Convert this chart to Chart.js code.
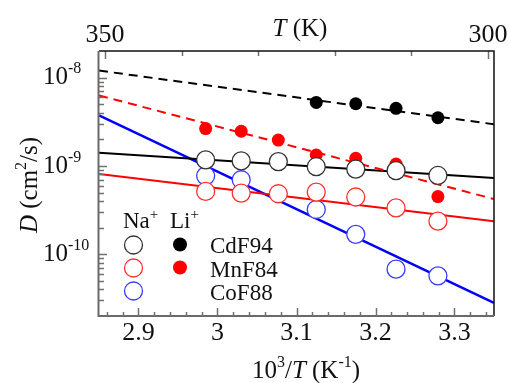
<!DOCTYPE html>
<html><head><meta charset="utf-8">
<script src="https://cdn.jsdelivr.net/npm/chart.js@4.4.1/dist/chart.umd.min.js"></script>
<style>html,body{margin:0;padding:0;background:#fff}#wrap{width:509px;height:383px;position:relative}</style>
</head><body><div id="wrap"><canvas id="c" width="509" height="383" style="position:absolute;left:0;top:0"></canvas></div>
<script>
// 10^3/T values (K^-1) for T = 335 ... 305 K
const invT = [2.985, 3.030, 3.077, 3.125, 3.175, 3.226, 3.279];
// Diffusion coefficients D (cm^2/s)
const naCdF94 = [1.17e-9, 1.14e-9, 1.12e-9, 0.98e-9, 0.92e-9, 0.885e-9, 0.78e-9];
const naMnF84 = [5.14e-10, 4.93e-10, 4.84e-10, 5.06e-10, 4.45e-10, 3.35e-10, 2.37e-10];
const naCoF88 = [7.73e-10, 6.97e-10, null, 3.21e-10, 1.68e-10, 6.78e-11, 5.70e-11];
const liCdF94 = [null, null, null, 5.23e-9, 5.06e-9, 4.49e-9, 3.51e-9];
const liMnF84 = [2.65e-9, 2.47e-9, 1.96e-9, 1.33e-9, 1.22e-9, 1.05e-9, 0.45e-9];
// Arrhenius fit lines, values at the ends of the x range
const fitX = [2.85, 3.35];
const fitNaCdF94 = [1.41e-9, 0.73e-9];
const fitLiCdF94 = [1.2e-8, 2.96e-9];
const fitNaMnF84 = [8.12e-10, 2.37e-10];
const fitLiMnF84 = [6.28e-9, 4.22e-10];
const fitNaCoF88 = [3.74e-9, 2.81e-11];
// tick labels
const xTickLabels = [[2.9,'2.9'],[3.0,'3'],[3.1,'3.1'],[3.2,'3.2'],[3.3,'3.3']];
const topTickLabels = [[350,'350'],[300,'300']];
const yTickExps = [-8,-9,-10];

function pts(xs, ys){ return xs.map((x,i)=>({x:x, y:ys[i]})).filter(p=>p.y!=null); }

const SERIF = "'Liberation Serif', serif";
function runs(ctx, parts, x, y, align){
  let w=0;
  parts.forEach(p=>{ctx.font=p.f; p.w=ctx.measureText(p.t).width; w+=p.w;});
  let cx = align==='center' ? x-w/2 : (align==='right' ? x-w : x);
  ctx.textAlign='left'; ctx.textBaseline='alphabetic';
  parts.forEach(p=>{ctx.font=p.f; ctx.fillText(p.t, cx, y+(p.dy||0)); cx+=p.w;});
}

const deco = {
  id:'deco',
  afterDraw(chart){
    const ctx=chart.ctx, a=chart.chartArea, sx=chart.scales.x, st=chart.scales.xT, sy=chart.scales.y;
    ctx.save();
    // ticks
    ctx.strokeStyle='#707070'; ctx.lineWidth=1.5;
    for(let i=143;i<=167;i++){
      const v=i/50, px=Math.round(sx.getPixelForValue(v))+0.5, L=(i%5===0)?8:4;
      ctx.beginPath(); ctx.moveTo(px,a.bottom); ctx.lineTo(px,a.bottom-L); ctx.stroke();
    }
    for(let T=300;T<=350;T+=10){
      const px=Math.round(st.getPixelForValue(T))+0.5, L=(T===300||T===350)?8:5;
      ctx.beginPath(); ctx.moveTo(px,a.top); ctx.lineTo(px,a.top+L); ctx.stroke();
    }
    for(let e=-11;e<=-8;e++){
      for(let m=1;m<=9;m++){
        const v=m*Math.pow(10,e);
        if(v<=sy.min*1.001||v>=sy.max*0.999) continue;
        const py=Math.round(sy.getPixelForValue(v))+0.5, L=(m===1)?8:5;
        ctx.beginPath(); ctx.moveTo(a.left,py); ctx.lineTo(a.left+L,py); ctx.stroke();
      }
    }
    // frame
    ctx.strokeStyle='#111'; ctx.lineWidth=1.5;
    ctx.beginPath(); ctx.moveTo(a.left,a.top); ctx.lineTo(a.right,a.top); ctx.lineTo(a.right,a.bottom); ctx.stroke();
    ctx.strokeStyle='#6a6a6a'; ctx.lineWidth=2;
    ctx.beginPath(); ctx.moveTo(a.left-0.5,a.top); ctx.lineTo(a.left-0.5,a.bottom); ctx.lineTo(a.right,a.bottom); ctx.stroke();

    ctx.fillStyle='#111';
    const F26='26px '+SERIF, F25='25px '+SERIF, F25i='italic 25px '+SERIF, F16='16px '+SERIF;
    // bottom tick labels
    xTickLabels.forEach(([v,t])=>runs(ctx,[{t:t,f:F26}],sx.getPixelForValue(v),340,'center'));
    // top tick labels
    topTickLabels.forEach(([v,t])=>runs(ctx,[{t:t,f:F26}],st.getPixelForValue(v),42,'center'));
    // left tick labels
    yTickExps.forEach(e=>{
      const py=sy.getPixelForValue(Math.pow(10,e));
      runs(ctx,[{t:'10',f:F25},{t:String(e),f:F16,dy:-11}],43,py+6.6,'left');
    });
    // axis titles
    runs(ctx,[{t:'T',f:F25i},{t:' (K)',f:F25}],300,36,'center');
    runs(ctx,[{t:'10',f:F25},{t:'3',f:F16,dy:-11},{t:'/',f:F25},{t:'T',f:F25i},{t:' (K',f:F25},{t:'-1',f:F16,dy:-11},{t:')',f:F25}],306,378,'center');
    ctx.save(); ctx.translate(37,185); ctx.rotate(-Math.PI/2);
    runs(ctx,[{t:'D',f:F25i},{t:' (cm',f:F25},{t:'2',f:F16,dy:-11},{t:'/s)',f:F25}],0,0,'center');
    ctx.restore();
    // legend
    const F23='23px '+SERIF, F15='15px '+SERIF;
    runs(ctx,[{t:'Na',f:F23},{t:'+',f:F15,dy:-9}],123,228,'left');
    runs(ctx,[{t:'Li',f:F23},{t:'+',f:F15,dy:-9}],170,228,'left');
    const rows=[['CdF94','#333','#000',245,253],['MnF84','#ff3030','#ff0000',268,276.5],['CoF88','#3a3aff',null,291,300]];
    rows.forEach(([lab,oc,fc,cy,by])=>{
      ctx.beginPath(); ctx.arc(133.5,cy,9,0,Math.PI*2); ctx.fillStyle='#fff'; ctx.fill();
      ctx.strokeStyle=oc; ctx.lineWidth=1.3; ctx.stroke();
      if(fc){ ctx.beginPath(); ctx.arc(180,cy-0.5,7,0,Math.PI*2); ctx.fillStyle=fc; ctx.fill(); }
      ctx.fillStyle='#111';
      runs(ctx,[{t:lab,f:F23}],210,by,'left');
    });
    ctx.restore();
  }
};

const lineDs = (d, color, w, dash) => ({type:'line', data:d, borderColor:color, borderWidth:w, borderDash:dash||[], pointRadius:0, fill:false, order:10, tension:0});
const openDs = (d, color, ord) => ({type:'line', data:d, showLine:false, pointRadius:9, pointBackgroundColor:'#fff', pointBorderColor:color, pointBorderWidth:1.3, order:ord});
const fillDs = (d, color) => ({type:'line', data:d, showLine:false, pointRadius:6.5, pointBackgroundColor:color, pointBorderColor:color, pointBorderWidth:0, order:5});

const chart = new Chart(document.getElementById('c'), {
  type:'line',
  data:{datasets:[
    lineDs(pts(fitX,fitLiCdF94),'#000',2,[9,6]),
    lineDs(pts(fitX,fitLiMnF84),'#ff0000',2,[9,6]),
    lineDs(pts(fitX,fitNaCdF94),'#000',2),
    lineDs(pts(fitX,fitNaMnF84),'#ff0000',2),
    lineDs(pts(fitX,fitNaCoF88),'#0000ff',2.5),
    fillDs(pts(invT,liCdF94),'#000'),
    fillDs(pts(invT,liMnF84),'#ff0000'),
    openDs(pts(invT,naCoF88),'#3a3aff',3),
    openDs(pts(invT,naMnF84),'#ff3030',2),
    openDs(pts(invT,naCdF94),'#333',1)
  ]},
  options:{
    responsive:false, animation:false, devicePixelRatio:1, events:[],
    layout:{padding:{left:99,right:15,top:51,bottom:67}},
    plugins:{legend:{display:false}, tooltip:{enabled:false}},
    scales:{
      x:{type:'linear', min:2.85, max:3.35, display:false},
      xT:{type:'linear', position:'top', axis:'x', min:299.2, max:350.8, reverse:true, display:false},
      y:{type:'logarithmic', min:2e-11, max:2e-8, display:false}
    }
  },
  plugins:[deco]
});
if (document.fonts && document.fonts.ready) document.fonts.ready.then(()=>chart.draw());
</script></body></html>
